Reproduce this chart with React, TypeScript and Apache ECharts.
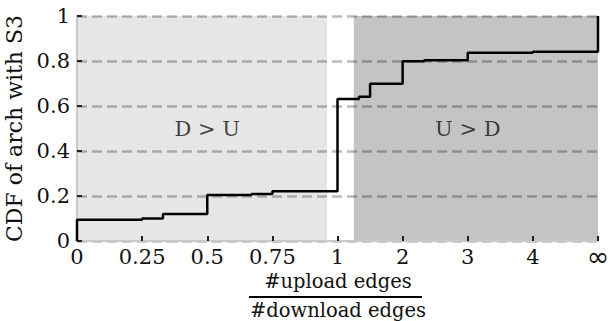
import React, { useEffect, useRef } from "react";
import * as echarts from "echarts";

// step points of the CDF (x = #upload/#download edges ratio, y = CDF)
const edgeRatio = [0, 0, 0.25, 0.33, 0.5, 0.67, 0.75, 1, 1.33, 1.5, 2, 2.33, 3, 4, Infinity];
const cdfValues = [0, 0.095, 0.1, 0.12, 0.204, 0.209, 0.221, 0.631, 0.641, 0.699, 0.799, 0.803, 0.837, 0.841, 1];
const xTickLabels = ["0", "0.25", "0.5", "0.75", "1", "2", "3", "4", "∞"];
const downGtUp = [0, 0.96];
const upGtDown = [1.25, Infinity];
const regionLabels = ["D > U", "U > D"];
const regionLabelX = [0.5, 3];
const regionLabelY = [0.5, 0.5];

// piecewise scale: [0,1] stretched x4, then linear, ∞ at the end
const pos = (v: number) => (v === Infinity ? 8 : v <= 1 ? v * 4 : 4 + (v - 1));

const FONT = "DejaVu Serif";

export default function App() {
  const ref = useRef<HTMLDivElement>(null);
  useEffect(() => {
    document.body.style.margin = "0";
    const chart = echarts.init(ref.current!, null, { renderer: "svg" });
    const stepData = edgeRatio.map((v, i) => [pos(v), cdfValues[i]]);
    chart.setOption({
      animation: false,
      grid: { left: 77, right: 12, top: 16, bottom: 80, containLabel: false, outerBoundsMode: "none" },
      xAxis: {
        type: "value",
        min: 0,
        max: 8,
        interval: 1,
        z: 10,
        axisLine: { show: true, lineStyle: { color: "#c8c8c8", width: 2 } },
        axisTick: { show: true, inside: true, length: 5, lineStyle: { color: "#222", width: 2 } },
        axisLabel: {
          color: "#111",
          fontFamily: FONT,
          fontSize: 21,
          margin: 5,
          formatter: (v: number) => {
            const t = xTickLabels[Math.round(v)] ?? "";
            return t === "∞" ? "{inf|∞}" : t;
          },
          rich: { inf: { fontFamily: "DejaVu Sans", fontSize: 27, lineHeight: 21, color: "#111" } },
        },
        splitLine: { show: false },
      },
      yAxis: {
        type: "value",
        min: 0,
        max: 1,
        interval: 0.2,
        z: 10,
        name: "CDF of arch with S3",
        nameLocation: "middle",
        nameRotate: 90,
        nameGap: 50,
        nameTextStyle: { color: "#111", fontFamily: FONT, fontSize: 22 },
        axisLine: { show: true, lineStyle: { color: "#c8c8c8", width: 2 } },
        axisTick: { show: true, inside: true, length: 5, lineStyle: { color: "#222", width: 2 } },
        axisLabel: {
          color: "#111",
          fontFamily: FONT,
          fontSize: 21,
          margin: 7,
          formatter: (v: number) => (v === 0 ? "0" : v === 1 ? "1" : v.toFixed(1)),
        },
        splitLine: { show: true, lineStyle: { color: "rgba(0,0,0,0.27)", width: 2.5, type: [10, 5] } },
      },
      series: [
        {
          type: "line",
          z: 0,
          data: [],
          markArea: {
            silent: true,
            z: 0,
            data: [
              [
                { xAxis: pos(downGtUp[0]), itemStyle: { color: "#e6e6e6" } },
                { xAxis: pos(downGtUp[1]) },
              ],
              [
                { xAxis: pos(upGtDown[0]), itemStyle: { color: "#c4c4c4" } },
                { xAxis: pos(upGtDown[1]) },
              ],
            ],
          },
        },
        {
          type: "line",
          z: 20,
          step: "end",
          showSymbol: false,
          symbol: "none",
          lineStyle: { color: "#000", width: 2.5 },
          data: stepData,
        },
        {
          type: "scatter",
          z: 20,
          symbolSize: 0,
          data: regionLabels.map((t, i) => ({ value: [pos(regionLabelX[i]), regionLabelY[i]], name: t })),
          label: {
            show: true,
            position: "inside",
            formatter: (p: any) => p.name,
            color: "#111",
            fontFamily: FONT,
            fontSize: 21,
          },
        },
      ],
      graphic: [
        {
          type: "text",
          x: 338,
          y: 281,
          style: {
            text: "#upload edges",
            fontFamily: FONT,
            fontSize: 19.5,
            fill: "#111",
            align: "center",
            verticalAlign: "middle",
          },
        },
        {
          type: "line",
          shape: { x1: 249, y1: 297, x2: 422, y2: 297 },
          style: { stroke: "#000", lineWidth: 2 },
        },
        {
          type: "text",
          x: 338,
          y: 310,
          style: {
            text: "#download edges",
            fontFamily: FONT,
            fontSize: 19.5,
            fill: "#111",
            align: "center",
            verticalAlign: "middle",
          },
        },
      ],
    });
    return () => chart.dispose();
  }, []);
  return <div ref={ref} style={{ width: 610, height: 321 }} />;
}
